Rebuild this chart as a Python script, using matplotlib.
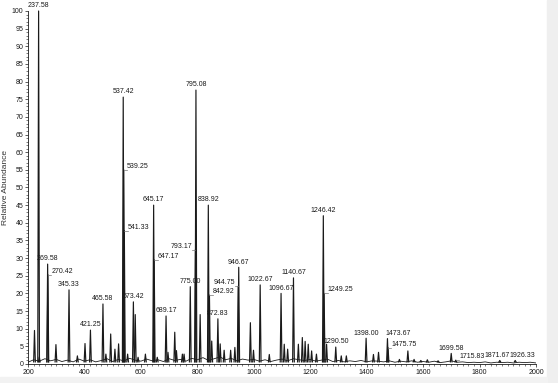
import numpy as np
import matplotlib.pyplot as plt
from matplotlib.patches import Rectangle

plt.rcParams['font.family'] = ['Liberation Sans', 'DejaVu Sans']

# picos rotulados (rótulo em cima do pico)
top_mz = [237.58, 269.58, 345.33, 421.25, 465.58, 537.42, 573.42, 645.17,
          689.17, 775.00, 795.08, 838.92, 872.83, 946.67, 1022.67, 1096.67,
          1140.67, 1246.42, 1290.50, 1398.00, 1473.67, 1699.58, 1871.67, 1926.33]
top_int = [100, 28.3, 21.0, 9.6, 17.0, 75.6, 17.6, 45.0,
           13.6, 21.9, 77.6, 45.0, 12.8, 27.4, 22.4, 20.0,
           24.4, 42.0, 4.8, 7.3, 7.2, 3.0, 1.0, 1.0]
top_txt = ['237.58', '269.58', '345.33', '421.25', '465.58', '537.42', '573.42', '645.17',
           '689.17', '775.00', '795.08', '838.92', '872.83', '946.67', '1022.67', '1096.67',
           '1140.67', '1246.42', '1290.50', '1398.00', '1473.67', '1699.58', '1871.67', '1926.33']
# deslocamento horizontal do rótulo (pontos)
top_dx = [0, 0, 0, 0, 0, 0, 0, 0,
          0, 0, 0, 0, 0, 0, 0, 0,
          0, 0, 0, 0, 8, 0, -2, 5]

# ombros rotulados ao lado (1 = direita, -1 = esquerda)
side_mz = [270.42, 539.25, 541.33, 647.17, 793.17, 842.92, 944.75, 1249.25, 1475.75, 1715.83]
side_int = [25.3, 55.0, 37.8, 29.5, 32.4, 19.5, 22.0, 20.0, 4.6, 1.1]
side_txt = ['270.42', '539.25', '541.33', '647.17', '793.17', '842.92', '944.75',
            '1249.25', '1475.75', '1715.83']
side_dir = [1, 1, 1, 1, -1, 1, -1, 1, 1, 1]

# picos menores sem rótulo
minor_mz = [223, 240, 299, 375, 402, 476, 493, 508, 521, 553, 580, 590, 616, 658,
            696, 720, 726, 747, 753, 810, 851, 881, 895, 918, 933, 988, 999, 1055,
            1108, 1120, 1158, 1172, 1182, 1193, 1205, 1222, 1258, 1310, 1328, 1424,
            1442, 1516, 1546, 1568, 1592, 1615, 1653]
minor_int = [9.5, 2.0, 5.5, 2.3, 5.8, 2.8, 8.5, 4.2, 5.7, 2.8, 14.0, 1.9, 2.8, 1.9,
             3.3, 9.0, 3.8, 2.8, 2.8, 14.0, 6.5, 5.7, 3.9, 3.9, 4.7, 11.7, 3.9, 2.7,
             5.6, 4.2, 5.6, 7.5, 6.4, 5.6, 3.7, 2.8, 5.6, 2.3, 2.3, 2.7,
             3.3, 1.3, 3.7, 1.3, 1.0, 1.2, 0.9]

# linha de base (ruído), a cada 20 m/z de 200 a 2000
base_mz = np.arange(200, 2001, 20)
base_int = [0.5, 1.2, 0.8, 1.5, 0.9, 1.3, 0.7, 1.1, 0.6, 1.4,
            0.8, 1.2, 0.6, 1.0, 1.5, 0.7, 1.3, 0.9, 1.6, 1.1,
            0.8, 1.4, 0.9, 1.2, 0.7, 1.5, 1.0, 1.3, 0.8, 1.6,
            1.2, 1.8, 1.0, 1.5, 2.0, 1.2, 1.6, 0.9, 1.4, 1.1,
            1.3, 0.8, 1.2, 0.7, 1.1, 1.4, 0.9, 1.5, 1.2, 1.0,
            1.3, 0.8, 1.1, 1.4, 0.7, 1.0, 0.6, 0.9, 0.7, 1.0,
            0.6, 0.9, 0.8, 0.6, 0.9, 0.5, 0.8, 0.6, 0.9, 0.5,
            0.7, 0.5, 0.8, 0.4, 0.6, 0.9, 0.5, 0.6, 0.4, 0.5,
            0.4, 0.6, 0.3, 0.5, 0.4, 0.5, 0.3, 0.5, 0.4, 0.5,
            0.3]

cor = '#1a1a1a'
fs = 5
fig = plt.figure(figsize=(5.58, 3.83), dpi=100)
fig.patches.append(Rectangle((547 / 558, 0), 11 / 558, 1, transform=fig.transFigure,
                             color='#efefef', zorder=0))
fig.patches.append(Rectangle((0, 0), 547 / 558, 6 / 383, transform=fig.transFigure,
                             color='#f2f2f2', zorder=0))
ax = fig.add_axes([28 / 558, 19 / 383, 508 / 558, 353 / 383])

ax.plot(base_mz, base_int, color=cor, lw=0.6)

w = 3.0  # meia largura dos picos
for m, h in zip(minor_mz + top_mz + side_mz, minor_int + top_int + side_int):
    ax.plot([m - w, m, m + w], [0.6, h, 0.6], color=cor, lw=0.85, clip_on=False)

for m, h, t, o in zip(top_mz, top_int, top_txt, top_dx):
    ax.annotate(t, (m, h), xytext=(o, 1.2), textcoords='offset points',
                ha='center', va='bottom', fontsize=fs, color=cor, annotation_clip=False)

dx = 12
for m, h, t, d in zip(side_mz, side_int, side_txt, side_dir):
    ax.plot([m, m + d * dx], [h, h], color='#777777', lw=0.5)
    ax.text(m + d * dx, h, t, ha='left' if d > 0 else 'right', va='bottom',
            fontsize=fs, color=cor)

ax.set_xlim(200, 2000)
ax.set_ylim(0, 100)
ax.set_xticks(range(200, 2001, 200))
ax.set_xticks(range(200, 2001, 20), minor=True)
ax.set_yticks(range(0, 101, 5))
ax.set_yticks(range(0, 101, 1), minor=True)
ax.tick_params(which='major', direction='out', length=2.5, width=0.5,
               labelsize=fs, pad=1, colors=cor)
ax.tick_params(which='minor', direction='out', length=1.5, width=0.4, colors=cor)
for s in ['top', 'right']:
    ax.spines[s].set_visible(False)
for s in ['left', 'bottom']:
    ax.spines[s].set_linewidth(0.6)
    ax.spines[s].set_color(cor)
ax.set_ylabel('Relative Abundance', fontsize=6, labelpad=1.5, color='#333333')

fig.savefig('out.png', dpi=100)
